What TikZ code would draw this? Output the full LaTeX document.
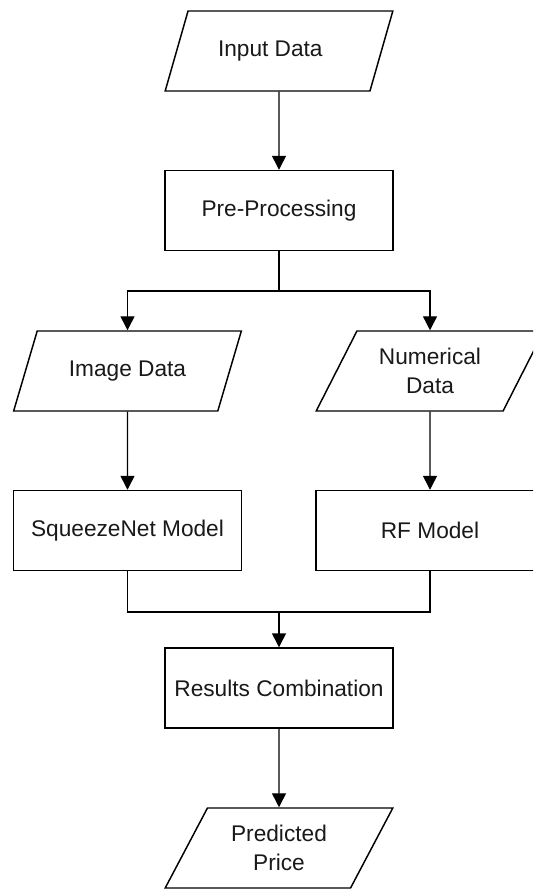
\documentclass[tikz,border=0pt]{standalone}
\usepackage{fontspec}
\setmainfont{Liberation Sans}
\usetikzlibrary{shapes.geometric,arrows.meta}
\tikzset{
  base/.style={draw=black, line width=1.1pt, align=center, font=\fontsize{17}{22}\selectfont, text=black!90},
  procbox/.style={base, rectangle, minimum width=171pt, minimum height=60pt},
  iobox/.style={base, trapezium, trapezium left angle=60.6, trapezium right angle=119.4,
    trapezium stretches=true, minimum width=171pt, minimum height=60pt},
  line/.style={draw=black, line width=1.1pt},
  arr/.style={line, -{Triangle[length=10.5pt,width=10.5pt]}}
}
\begin{document}
\begin{tikzpicture}[x=0.75pt,y=-0.75pt]
\clip (0,0) rectangle (533,889);
\useasboundingbox (0,0) rectangle (533,889);
\fill[white] (0,0) rectangle (533,889);

\node[iobox] (input) at (279,51) {Input Data\hspace*{13pt}};
\node[procbox] (pre) at (279,210.5) {Pre-Processing};
\node[iobox] (image) at (127.5,371) {Image Data};
\node[iobox] (numerical) at (430,371) {Numerical\\Data};
\node[procbox] (squeeze) at (127.5,530.5) {SqueezeNet Model};
\node[procbox] (rf) at (430,530.5) {RF Model};
\node[procbox] (results) at (279,688) {Results Combination};
\node[iobox] (predicted) at (279,848) {Predicted\\Price};

\coordinate (split) at (279,291);
\coordinate (merge) at (279,612);

\draw[arr] (input.south) -- (pre.north);
\draw[line] (pre.south) -- (split);
\draw[arr] (split) -| (image.north);
\draw[arr] (split) -| (numerical.north);
\draw[arr] (image.south) -- (squeeze.north);
\draw[arr] (numerical.south) -- (rf.north);
\draw[line] (squeeze.south) |- (merge);
\draw[line] (rf.south) |- (merge);
\draw[arr] (merge) -- (results.north);
\draw[arr] (results.south) -- (predicted.north);
\end{tikzpicture}
\end{document}
